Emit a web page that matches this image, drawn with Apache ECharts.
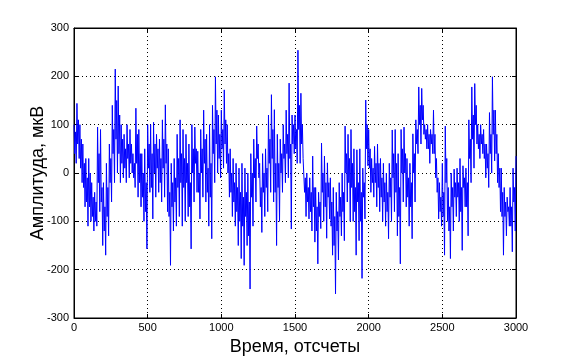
<!DOCTYPE html>
<html>
<head>
<meta charset="utf-8">
<script src="https://cdn.jsdelivr.net/npm/echarts@6/dist/echarts.min.js"></script>
<style>
  html, body { margin: 0; padding: 0; background: #fff; }
  #chart { width: 570px; height: 357px; }
</style>
</head>
<body>
<div id="chart"></div>
<script>
// шаг по отсчетам между соседними точками
var sampleStep = 5

// амплитуда, мкВ (оценка по рисунку, каждые 5 отсчетов)
var amplitude = [
  100, 40, 85, 20,  144, 60, 110, 30,  100, 10, 70, -20,  60, -30, 20, -70,  30, -60, -10, -110,
  30, -70, 0, -100,  -20, -90, -50, -120,  -40, -100, -60, -110,  95, -20, 40, -80,  90, -60, -30, -150,
  -20, -120, -70, -170,  20, -90, -30, -130,  60, -20, 30, -60,  140, 40, 90, -20,  215, 70, 150, 0,
  180, 40, 120, -20,  100, 20, 70, -10,  80, 10, 50, -20,  100, 30, 60, -10,  90, 20, 60, 0,
  40, -10, 20, -30,  134, 20, 80, -50,  90, -20, 40, -70,  40, -50, 0, -100,  50, -80, -20, -157,
  100, 10, 60, -40,  100, -30, 40, -95,  105, 0, 60, -50,  80, 10, 50, -40,  70, -20, 30, -60,
  110, 10, 70, -50,  141, 20, 60, -80,  50, -90, -40, -191,  20, -70, -20, -120,  30, -60, -10, -110,
  80, -30, 30, -90,  110, -20, 40, -110,  90, -30, 30, -100,  80, -20, 20, -90,  60, -70, -20, -157,
  100, 0, 50, -60,  95, 20, 50, -40,  45, -40, 0, -95,  90, 0, 50, -50,  130, 20, 70, -60,
  80, -40, 10, -110,  100, -50, 20, -136,  140, 40, 90, -20,  199, 60, 130, 0,  120, 30, 80, -10,
  130, 50, 90, 10,  172, 60, 110, 20,  100, 0, 40, -50,  50, -40, 0, -90,  30, -60, -20, -110,
  20, -80, -30, -150,  10, -100, -40, -177,  20, -110, -50, -191,  10, -90, -40, -150,  0, -130, -60, -240,
  40, -50, 0, -110,  70, -10, 30, -60,  97, 30, 60, -10,  20, -70, -30, -123,  40, -40, 0, -90,
  50, -30, 10, -80,  120, 20, 70, -40,  162, 30, 90, -60,  131, -40, 20, -150,  80, -30, 20, -100,
  70, 0, 40, -40,  100, 30, 60, -20,  130, 40, 80, -10,  186, 30, 60, -116,  120, 60, 100, 40,
  120, 50, 90, 20,  254, 90, 140, 20,  165, 60, 100, 30,  30, -40, -10, -90,  0, -60, -30, -95,
  -10, -80, -40, -120,  35, -70, -30, -143,  -30, -120, -70, -188,  -40, -90, -60, -115,  62, -40, 0, -100,
  35, -70, -20, -135,  21, -50, -20, -95,  -10, -110, -60, -170,  -30, -150, -90, -250,  -40, -120, -80, -180,
  -20, -90, -50, -130,  0, -80, -40, -140,  97, 0, 40, -60,  80, -20, 30, -100,  90, -30, 20, -100,
  50, -80, -30, -170,  48, -60, -20, -140,  50, -100, -40, -218,  10, -50, -20, -95,  151, 50, 100, 15,
  90, 10, 50, -40,  30, -20, 10, -50,  55, -20, 20, -70,  60, -30, 20, -80,  30, -50, -10, -100,
  20, -60, -20, -110,  0, -80, -40, -136,  20, -50, -10, -100,  89, -10, 40, -80,  90, -40, 20, -130,
  40, -90, -30, -188,  90, 0, 50, -60,  95, 0, 40, -70,  30, -50, -10, -110,  20, -70, -20, -136,
  81, 0, 40, -60,  110, 60, 90, 40,  178, 100, 140, 60,  175, 110, 140, 80,  100, 70, 90, 50,
  100, 50, 80, 20,  90, 60, 80, 40,  130, 40, 80, -10,  30, -40, -10, -95,  -20, -80, -50, -110,
  20, -90, -40, -170,  97, -20, 30, -100,  -30, -120, -70, -177,  0, -70, -30, -120,  8, -50, -20, -90,
  10, -50, -20, -100,  30, -80, -30, -160,  15, -30, -10, -70,  10, -70, -20, -130,  110, 30, 70, -20,
  178, 70, 120, 10,  185, 100, 140, 60,  100, 50, 80, 30,  100, 60, 80, 40,  90, 30, 60, -10,
  60, 10, 40, -30,  125, 40, 80, 0,  199, 80, 130, 25,  130, 40, 80, -20,  40, -30, 10, -80,
  10, -90, -40, -170,  -30, -90, -60, -130,  -50, -80, -70, -110,  -30, -110, -70, -163,  10, -60, -30, -120,
  35
]

var xTicks = [0, 500, 1000, 1500, 2000, 2500, 3000]
var yTicks = [-300, -200, -100, 0, 100, 200, 300]

var labelFont = 'Liberation Sans, Arial, sans-serif'

var seriesData = amplitude.map(function (v, i) { return [i * sampleStep, v] })

var chart = echarts.init(document.getElementById('chart'))

var gridLine = { show: true, lineStyle: { color: '#000', type: [1, 3], width: 1 } }
var plainNumber = function (v) { return String(v) }

var option = {
  animation: false,
  backgroundColor: '#fff',
  grid: {
    left: 74, right: 54, top: 28, bottom: 39,
    show: true, borderColor: '#000', borderWidth: 1,
    containLabel: false,
    outerBoundsMode: 'none'
  },
  xAxis: [
    {
      type: 'value',
      min: xTicks[0],
      max: xTicks[xTicks.length - 1],
      interval: 500,
      name: 'Время, отсчеты',
      nameLocation: 'middle',
      nameGap: 20,
      nameMoveOverlap: false,
      nameTextStyle: { fontSize: 18, color: '#000', fontFamily: labelFont },
      axisLine: { show: true, onZero: false, lineStyle: { color: '#000' } },
      axisTick: { inside: true, length: 4, lineStyle: { color: '#000' } },
      axisLabel: { color: '#000', fontSize: 11, fontFamily: labelFont, margin: 4, formatter: plainNumber },
      splitLine: gridLine
    },
    {
      type: 'value',
      position: 'top',
      min: xTicks[0],
      max: xTicks[xTicks.length - 1],
      interval: 500,
      axisLine: { show: true, onZero: false, lineStyle: { color: '#000' } },
      axisTick: { inside: true, length: 4, lineStyle: { color: '#000' } },
      axisLabel: { show: false },
      splitLine: { show: false }
    }
  ],
  yAxis: [
    {
      type: 'value',
      min: yTicks[0],
      max: yTicks[yTicks.length - 1],
      interval: 100,
      name: 'Амплитуда, мкВ',
      nameLocation: 'middle',
      nameGap: 27,
      nameMoveOverlap: false,
      nameTextStyle: { fontSize: 18, color: '#000', fontFamily: labelFont },
      axisLine: { show: true, onZero: false, lineStyle: { color: '#000' } },
      axisTick: { inside: true, length: 4, lineStyle: { color: '#000' } },
      axisLabel: { color: '#000', fontSize: 11, fontFamily: labelFont, margin: 5, formatter: plainNumber },
      splitLine: gridLine
    },
    {
      type: 'value',
      position: 'right',
      min: yTicks[0],
      max: yTicks[yTicks.length - 1],
      interval: 100,
      axisLine: { show: true, onZero: false, lineStyle: { color: '#000' } },
      axisTick: { inside: true, length: 4, lineStyle: { color: '#000' } },
      axisLabel: { show: false },
      splitLine: { show: false }
    }
  ],
  series: [
    {
      type: 'line',
      data: seriesData,
      showSymbol: false,
      lineStyle: { color: '#0000ff', width: 1 },
      itemStyle: { color: '#0000ff' }
    }
  ]
}

chart.setOption(option)
</script>
</body>
</html>
